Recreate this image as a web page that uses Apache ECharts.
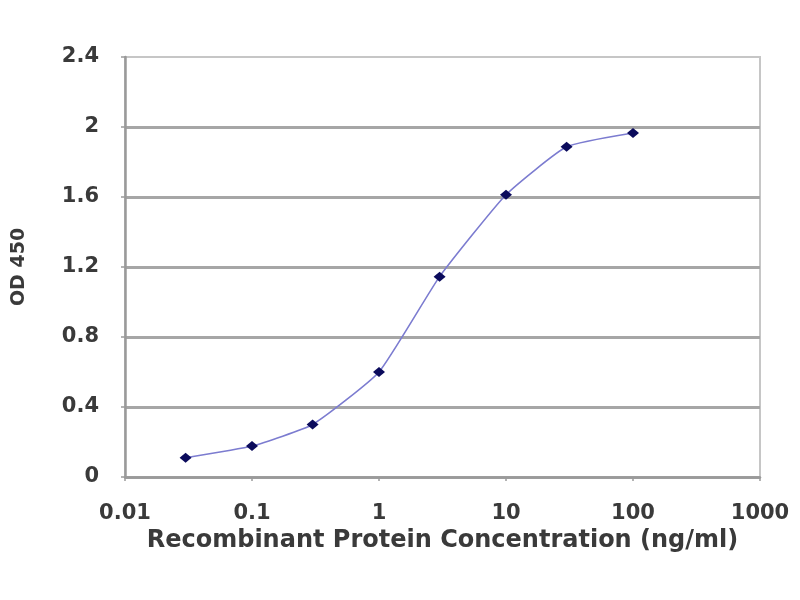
<!DOCTYPE html>
<html>
<head>
<meta charset="utf-8">
<script src="https://cdn.jsdelivr.net/npm/echarts@6/dist/echarts.min.js"></script>
<style>
  html, body { margin: 0; padding: 0; background: #ffffff; }
  #chart { width: 800px; height: 600px; }
</style>
</head>
<body>
<div id="chart"></div>
<script>
// Data
const concentrations = [0.03, 0.1, 0.3, 1, 3, 10, 30, 100];
const od450 = [0.11, 0.177, 0.30, 0.60, 1.145, 1.613, 1.887, 1.966];
const xTickLabels = ['0.01', '0.1', '1', '10', '100', '1000'];
const yTickLabels = ['0', '0.4', '0.8', '1.2', '1.6', '2', '2.4'];
const xAxisTitle = 'Recombinant Protein Concentration (ng/ml)';
const yAxisTitle = 'OD 450';

const points = concentrations.map((c, i) => [c, od450[i]]);
const labelFont = 'DejaVu Sans';
const textColor = '#3a3a3a';

const chart = echarts.init(document.getElementById('chart'));
chart.setOption({
  backgroundColor: '#ffffff',
  animation: false,
  grid: {
    left: 125, right: 40, top: 57, bottom: 123,
    show: true, borderColor: '#c6c6c6', borderWidth: 2, backgroundColor: '#ffffff'
  },
  xAxis: {
    type: 'log',
    logBase: 10,
    min: 0.01,
    max: 1000,
    name: xAxisTitle,
    nameLocation: 'middle',
    nameGap: 50,
    nameTextStyle: { fontFamily: labelFont, fontWeight: 'bold', fontSize: 24, color: textColor },
    axisLine: { show: true, lineStyle: { color: '#9a9a9a', width: 2.5 } },
    axisTick: { show: true, length: 4, lineStyle: { color: '#9a9a9a', width: 1.5 } },
    minorTick: { show: false },
    splitLine: { show: false },
    axisLabel: {
      margin: 26,
      fontFamily: labelFont, fontWeight: 'bold', fontSize: 21, color: textColor,
      formatter: function (v) {
        const idx = Math.round(Math.log10(v)) + 2;
        return xTickLabels[idx] !== undefined ? xTickLabels[idx] : String(v);
      }
    }
  },
  yAxis: {
    type: 'value',
    min: 0,
    max: 2.4,
    interval: 0.4,
    name: yAxisTitle,
    nameLocation: 'middle',
    nameGap: 96,
    nameTextStyle: { fontFamily: labelFont, fontWeight: 'bold', fontSize: 19, color: textColor },
    axisLine: { show: true, lineStyle: { color: '#9a9a9a', width: 2.5 } },
    axisTick: { show: true, length: 4, lineStyle: { color: '#9a9a9a', width: 1.5 } },
    splitLine: { show: true, showMaxLine: false, lineStyle: { color: '#a6a6a6', width: 3 } },
    axisLabel: {
      margin: 26,
      fontFamily: labelFont, fontWeight: 'bold', fontSize: 21, color: textColor,
      formatter: function (v) {
        const idx = Math.round(v / 0.4);
        return yTickLabels[idx] !== undefined ? yTickLabels[idx] : String(v);
      }
    }
  },
  series: [{
    type: 'line',
    data: points,
    smooth: 0.15,
    symbol: 'diamond',
    symbolSize: [12, 10],
    showSymbol: true,
    lineStyle: { color: '#7c7cd0', width: 1.6 },
    itemStyle: { color: '#0b0b5c', borderWidth: 0 }
  }]
});
</script>
</body>
</html>
